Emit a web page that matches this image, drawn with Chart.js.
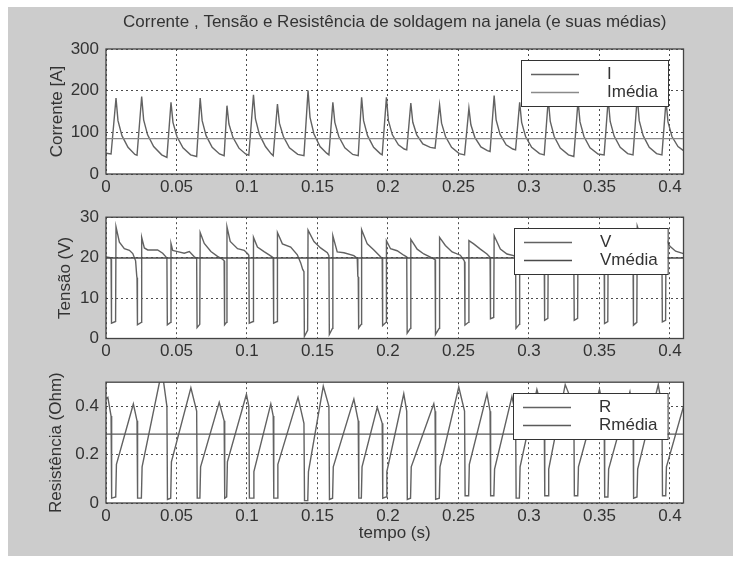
<!DOCTYPE html>
<html>
<head>
<meta charset="utf-8">
<script src="https://cdn.jsdelivr.net/npm/chart.js@4/dist/chart.umd.min.js"></script>
<style>
    body { margin: 0; background: #ffffff; }
    #figura { position: absolute; left: 8px; top: 7px; width: 725px; height: 549px; background: #cccccc; }
    canvas { position: absolute; left: 0; }
</style>
</head>
<body>
<div id="figura"></div>
<canvas id="graficoCorrente" width="741" height="200" style="top:0px"></canvas>
<canvas id="graficoTensao" width="741" height="165" style="top:200px"></canvas>
<canvas id="graficoResistencia" width="741" height="191" style="top:365px"></canvas>
<script>
// Eixo do tempo e marcas dos eixos
const tempoFinal = 0.4096;
const tempoTicks = [0, 0.05, 0.1, 0.15, 0.2, 0.25, 0.3, 0.35, 0.4];
const correnteTicks = [0, 100, 200, 300];
const tensaoTicks = [0, 10, 20, 30];
const resistenciaTicks = [0, 0.2, 0.4];

// Médias
const correnteMedia = 85;
const tensaoMedia = 19.9;
const resistenciaMedia = 0.285;

// Corrente [A]: pares [tempo, valor]
const corrente = [
    [0, 50], [0.0036, 48],
    [0.0071, 182], [0.0085, 128], [0.0113, 92], [0.0156, 64], [0.0205, 47], [0.0220, 45],
    [0.0253, 186], [0.0267, 130], [0.0295, 94], [0.0338, 66], [0.0395, 46], [0.0432, 40],
    [0.0461, 172], [0.0475, 124], [0.0503, 90], [0.0546, 63], [0.0600, 46], [0.0643, 42],
    [0.0668, 182], [0.0682, 128], [0.0710, 92], [0.0753, 64], [0.0805, 48], [0.0838, 44],
    [0.0858, 164], [0.0872, 120], [0.0900, 88], [0.0943, 62], [0.0990, 48], [0.1013, 45],
    [0.1046, 190], [0.1060, 132], [0.1088, 95], [0.1131, 66], [0.1170, 49], [0.1186, 44],
    [0.1216, 168], [0.1230, 122], [0.1258, 90], [0.1301, 63], [0.1360, 47], [0.1404, 44],
    [0.1433, 200], [0.1447, 136], [0.1475, 96], [0.1518, 66], [0.1565, 50], [0.1581, 46],
    [0.1609, 172], [0.1623, 124], [0.1651, 90], [0.1694, 63], [0.1750, 47], [0.1789, 44],
    [0.1813, 184], [0.1827, 128], [0.1855, 92], [0.1898, 64], [0.1945, 49], [0.1959, 46],
    [0.1989, 184], [0.2003, 128], [0.2031, 94], [0.2074, 70], [0.2115, 60], [0.2133, 58],
    [0.2162, 170], [0.2176, 124], [0.2204, 94], [0.2247, 72], [0.2300, 64], [0.2334, 62],
    [0.2366, 166], [0.2380, 122], [0.2408, 90], [0.2451, 64], [0.2505, 49], [0.2543, 46],
    [0.2574, 158], [0.2588, 118], [0.2616, 88], [0.2659, 65], [0.2705, 56], [0.2724, 54],
    [0.2753, 188], [0.2767, 130], [0.2795, 95], [0.2838, 70], [0.2885, 60], [0.2905, 58],
    [0.2934, 172], [0.2948, 124], [0.2976, 90], [0.3019, 64], [0.3075, 49], [0.3108, 46],
    [0.3137, 180], [0.3151, 126], [0.3179, 90], [0.3222, 62], [0.3280, 46], [0.3318, 42],
    [0.3348, 176], [0.3362, 125], [0.3390, 90], [0.3433, 63], [0.3490, 48], [0.3533, 46],
    [0.3562, 180], [0.3576, 126], [0.3604, 91], [0.3647, 64], [0.3700, 49], [0.3738, 46],
    [0.3768, 185], [0.3782, 128], [0.3810, 92], [0.3853, 64], [0.3905, 49], [0.3943, 46],
    [0.3972, 176], [0.3986, 125], [0.4014, 90], [0.4057, 66], [0.4096, 56]
];

// Tensão (V): pares [tempo, valor]
const tensao = [
    [0, 20.2], [0.0030, 20.0], [0.0036, 19.6], [0.0039, 3.8], [0.0068, 4.2], [0.0071, 27.6],
    [0.0095, 23.8], [0.0130, 22.2], [0.0166, 21.8], [0.0190, 21.0], [0.0210, 19.2], [0.0218, 15.5], [0.0220, 15.0],
    [0.0223, 3.4], [0.0250, 4.0], [0.0253, 25.0],
    [0.0272, 22.4], [0.0296, 21.9], [0.0366, 21.9], [0.0402, 21.1], [0.0425, 20.2], [0.0432, 19.8],
    [0.0435, 3.4], [0.0458, 4.0], [0.0461, 23.5],
    [0.0473, 21.8], [0.0508, 21.5], [0.0555, 21.1], [0.0591, 21.5], [0.0626, 20.2], [0.0643, 19.8],
    [0.0646, 2.7], [0.0665, 3.5], [0.0668, 26.2],
    [0.0697, 23.5], [0.0744, 21.5], [0.0791, 20.3], [0.0827, 19.6], [0.0838, 19.2],
    [0.0841, 3.4], [0.0855, 4.0], [0.0858, 27.6],
    [0.0881, 24.0], [0.0933, 22.2], [0.0980, 21.8], [0.1003, 21.0], [0.1013, 20.6],
    [0.1016, 3.8], [0.1043, 4.2], [0.1046, 25.0],
    [0.1074, 22.6], [0.1121, 21.5], [0.1157, 20.7], [0.1186, 20.0],
    [0.1189, 3.8], [0.1213, 4.2], [0.1216, 26.2],
    [0.1251, 23.4], [0.1310, 22.6], [0.1357, 20.7], [0.1381, 18.7], [0.1395, 17.1], [0.1404, 16.5],
    [0.1407, 0.5], [0.1430, 2.0], [0.1433, 26.8],
    [0.1475, 24.0], [0.1522, 22.4], [0.1570, 21.2], [0.1581, 20.5],
    [0.1584, 1.0], [0.1606, 2.5], [0.1609, 25.4],
    [0.1640, 21.4], [0.1688, 21.2], [0.1758, 20.5], [0.1782, 19.8], [0.1786, 15.4], [0.1789, 15.2],
    [0.1792, 2.6], [0.1810, 3.5], [0.1813, 26.9],
    [0.1853, 23.4], [0.1900, 21.9], [0.1947, 20.2], [0.1959, 19.8],
    [0.1962, 3.2], [0.1986, 4.0], [0.1989, 24.2],
    [0.2018, 22.2], [0.2065, 21.7], [0.2112, 20.6], [0.2133, 20.2],
    [0.2136, 1.3], [0.2159, 2.5], [0.2162, 24.5],
    [0.2207, 22.1], [0.2254, 20.9], [0.2301, 20.1], [0.2334, 19.5],
    [0.2337, 1.0], [0.2363, 2.5], [0.2366, 25.0],
    [0.2407, 23.0], [0.2455, 21.4], [0.2513, 20.6], [0.2538, 19.4], [0.2543, 19.0],
    [0.2546, 3.3], [0.2571, 4.0], [0.2574, 24.2],
    [0.2608, 23.4], [0.2655, 22.1], [0.2702, 20.9], [0.2724, 20.1],
    [0.2727, 4.9], [0.2750, 5.2], [0.2753, 25.4],
    [0.2797, 22.1], [0.2844, 20.9], [0.2891, 20.5], [0.2905, 20.0],
    [0.2908, 2.5], [0.2931, 3.5], [0.2934, 26.0],
    [0.2975, 23.2], [0.3025, 21.8], [0.3075, 20.8], [0.3108, 20.0],
    [0.3111, 4.5], [0.3134, 5.0], [0.3137, 25.5],
    [0.3180, 23.0], [0.3235, 21.6], [0.3290, 20.6], [0.3318, 19.8],
    [0.3321, 4.5], [0.3345, 5.0], [0.3348, 26.0],
    [0.3390, 23.2], [0.3445, 21.8], [0.3500, 20.8], [0.3533, 20.0],
    [0.3536, 3.7], [0.3559, 4.2], [0.3562, 25.5],
    [0.3605, 23.0], [0.3655, 21.6], [0.3710, 20.6], [0.3738, 19.8],
    [0.3741, 3.3], [0.3765, 4.0], [0.3768, 27.8],
    [0.3805, 23.8], [0.3855, 22.0], [0.3910, 20.8], [0.3943, 20.0],
    [0.3946, 4.1], [0.3969, 4.5], [0.3972, 24.5],
    [0.4000, 22.8], [0.4040, 21.6], [0.4096, 21.0]
];

// Resistência (Ohm): pares [tempo, valor]
const resistencia = [
    [0, 0.43], [0.0013, 0.437], [0.0036, 0.36], [0.0040, 0.02], [0.0069, 0.025], [0.0074, 0.16],
    [0.0194, 0.41], [0.0220, 0.34], [0.0224, 0.02], [0.0251, 0.02], [0.0256, 0.15],
    [0.0397, 0.55], [0.0432, 0.40], [0.0436, 0.015], [0.0459, 0.02], [0.0464, 0.17],
    [0.0602, 0.477], [0.0643, 0.38], [0.0647, 0.02], [0.0666, 0.02], [0.0671, 0.15],
    [0.0803, 0.417], [0.0838, 0.34], [0.0842, 0.02], [0.0856, 0.025], [0.0861, 0.17],
    [0.0996, 0.45], [0.1013, 0.40], [0.1017, 0.02], [0.1044, 0.02], [0.1049, 0.13],
    [0.1169, 0.41], [0.1186, 0.36], [0.1190, 0.02], [0.1214, 0.02], [0.1219, 0.16],
    [0.1362, 0.437], [0.1404, 0.33], [0.1408, 0.01], [0.1431, 0.01], [0.1436, 0.13],
    [0.1541, 0.484], [0.1581, 0.40], [0.1585, 0.015], [0.1607, 0.02], [0.1612, 0.15],
    [0.1758, 0.43], [0.1789, 0.34], [0.1793, 0.02], [0.1811, 0.02], [0.1816, 0.15],
    [0.1924, 0.396], [0.1959, 0.33], [0.1963, 0.02], [0.1987, 0.025], [0.1992, 0.13],
    [0.2112, 0.452], [0.2133, 0.38], [0.2137, 0.015], [0.2160, 0.02], [0.2165, 0.15],
    [0.2325, 0.411], [0.2334, 0.38], [0.2338, 0.015], [0.2364, 0.02], [0.2369, 0.15],
    [0.2502, 0.48], [0.2543, 0.38], [0.2547, 0.03], [0.2572, 0.03], [0.2577, 0.16],
    [0.2702, 0.452], [0.2724, 0.38], [0.2728, 0.03], [0.2751, 0.03], [0.2756, 0.14],
    [0.2879, 0.44], [0.2905, 0.37], [0.2909, 0.02], [0.2932, 0.02], [0.2937, 0.15],
    [0.3056, 0.47], [0.3108, 0.36], [0.3112, 0.03], [0.3135, 0.03], [0.3140, 0.14],
    [0.3257, 0.49], [0.3318, 0.40], [0.3322, 0.03], [0.3346, 0.03], [0.3351, 0.15],
    [0.3500, 0.47], [0.3533, 0.38], [0.3537, 0.025], [0.3560, 0.025], [0.3565, 0.14],
    [0.3716, 0.46], [0.3738, 0.38], [0.3742, 0.02], [0.3766, 0.025], [0.3771, 0.14],
    [0.3917, 0.49], [0.3943, 0.40], [0.3947, 0.03], [0.3970, 0.03], [0.3975, 0.15],
    [0.4096, 0.40]
];

const fonte = "'Liberation Sans', Arial, sans-serif";
const corTexto = "#333333";
Chart.defaults.font.family = fonte;
Chart.defaults.font.size = 17;
Chart.defaults.color = corTexto;

function formatar( v ) {
    return String( Math.round( v * 1000 ) / 1000 );
}

// Fundo branco da área do gráfico
const fundoBranco = {
    id: "fundoBranco",
    beforeDraw( chart ) {
        const { ctx, chartArea: a } = chart;
        ctx.save();
        ctx.fillStyle = "#ffffff";
        ctx.fillRect( a.left, a.top, a.right - a.left, a.bottom - a.top );
        ctx.restore();
    }
};

// Moldura dos eixos e legenda em caixa (estilo MATLAB)
const molduraLegenda = {
    id: "molduraLegenda",
    afterDraw( chart ) {
        const { ctx, chartArea: a } = chart;
        ctx.save();
        ctx.strokeStyle = "#444444";
        ctx.lineWidth = 1.3;
        ctx.strokeRect( a.left, a.top, a.right - a.left, a.bottom - a.top );

        ctx.font = "17px " + fonte;
        const conjuntos = chart.data.datasets;
        const larguraTexto = Math.max( ...conjuntos.map( d => ctx.measureText( d.label ).width ) );
        const w = 86 + larguraTexto + 10;
        const h = 46;
        const x = Math.round( a.right - 15.5 - w );
        const y = Math.round( a.top + 11 );
        ctx.fillStyle = "#ffffff";
        ctx.fillRect( x, y, w, h );
        ctx.strokeStyle = "#333333";
        ctx.lineWidth = 1;
        ctx.strokeRect( x + 0.5, y + 0.5, w, h );
        conjuntos.forEach( ( d, i ) => {
            const ly = y + 14.5 + i * 18;
            ctx.strokeStyle = d.borderColor;
            ctx.lineWidth = d.borderWidth;
            ctx.beginPath();
            ctx.moveTo( x + 10, ly );
            ctx.lineTo( x + 58, ly );
            ctx.stroke();
            ctx.fillStyle = corTexto;
            ctx.textBaseline = "middle";
            ctx.textAlign = "left";
            ctx.fillText( d.label, x + 86, ly );
        } );
        ctx.restore();
    }
};

function criarGrafico( id, cfg ) {
    const canvas = document.getElementById( id );
    return new Chart( canvas.getContext( "2d" ), {
        type: "line",
        data: {
            datasets: [
                {
                    label: cfg.rotulo,
                    data: cfg.serie.map( ( [t, v] ) => ( { x: t, y: v } ) ),
                    borderColor: "#626262",
                    borderWidth: 1.4,
                    pointRadius: 0,
                    tension: 0,
                    clip: 0,
                    order: 1
                },
                {
                    label: cfg.rotuloMedia,
                    data: [{ x: 0, y: cfg.media }, { x: tempoFinal, y: cfg.media }],
                    borderColor: cfg.corMedia,
                    borderWidth: 1.4,
                    pointRadius: 0,
                    clip: 0,
                    order: 0
                }
            ]
        },
        options: {
            responsive: false,
            animation: false,
            events: [],
            layout: { padding: cfg.padding },
            plugins: {
                legend: { display: false },
                tooltip: { enabled: false },
                title: cfg.titulo ? {
                    display: true,
                    text: cfg.titulo,
                    fullSize: false,
                    font: { size: 17, weight: "normal" },
                    color: corTexto,
                    padding: { top: 11.8, bottom: 16.8 }
                } : { display: false }
            },
            scales: {
                x: {
                    type: "linear",
                    min: 0,
                    max: tempoFinal,
                    grid: { color: "rgba(0,0,0,0.7)", lineWidth: 1, drawTicks: false },
                    border: { display: false, dash: [2, 3] },
                    ticks: { padding: 3, maxRotation: 0, autoSkip: false, callback: formatar },
                    afterBuildTicks: s => { s.ticks = tempoTicks.map( v => ( { value: v } ) ); },
                    afterFit: s => { s.height = cfg.alturaX; },
                    title: cfg.tituloX ? {
                        display: true,
                        text: cfg.tituloX,
                        padding: { top: 0, bottom: cfg.padTituloX }
                    } : { display: false }
                },
                y: {
                    min: 0,
                    max: cfg.maxY,
                    grid: { color: "rgba(0,0,0,0.7)", lineWidth: 1, drawTicks: false },
                    border: { display: false, dash: [2, 3] },
                    ticks: { padding: 7, callback: formatar },
                    afterBuildTicks: s => { s.ticks = cfg.ticksY.map( v => ( { value: v } ) ); },
                    afterFit: s => { s.width = 106; },
                    title: {
                        display: true,
                        text: cfg.tituloY,
                        padding: { top: cfg.padTituloY, bottom: 0 }
                    }
                }
            }
        },
        plugins: [fundoBranco, molduraLegenda]
    } );
}

criarGrafico( "graficoCorrente", {
    serie: corrente, media: correnteMedia, rotulo: "I", rotuloMedia: "Imédia",
    corMedia: "#8a8a8a", maxY: 300, ticksY: correnteTicks, tituloY: "Corrente [A]",
    padTituloY: 46.8, alturaX: 26,
    titulo: "Corrente , Tensão e Resistência de soldagem na janela (e suas médias)",
    padding: { top: 0, right: 57.5, bottom: 0, left: 0 }
} );

criarGrafico( "graficoTensao", {
    serie: tensao, media: tensaoMedia, rotulo: "V", rotuloMedia: "Vmédia",
    corMedia: "#4a4a4a", maxY: 30, ticksY: tensaoTicks, tituloY: "Tensão (V)",
    padTituloY: 55.3, alturaX: 26,
    padding: { top: 14, right: 57.5, bottom: 0.5, left: 0 }
} );

criarGrafico( "graficoResistencia", {
    serie: resistencia, media: resistenciaMedia, rotulo: "R", rotuloMedia: "Rmédia",
    corMedia: "#5a5a5a", maxY: 0.5, ticksY: resistenciaTicks, tituloY: "Resistência (Ohm)",
    padTituloY: 46.3, alturaX: 53, tituloX: "tempo (s)", padTituloX: 12,
    padding: { top: 14.5, right: 57.5, bottom: 0, left: 0 }
} );
</script>
</body>
</html>
